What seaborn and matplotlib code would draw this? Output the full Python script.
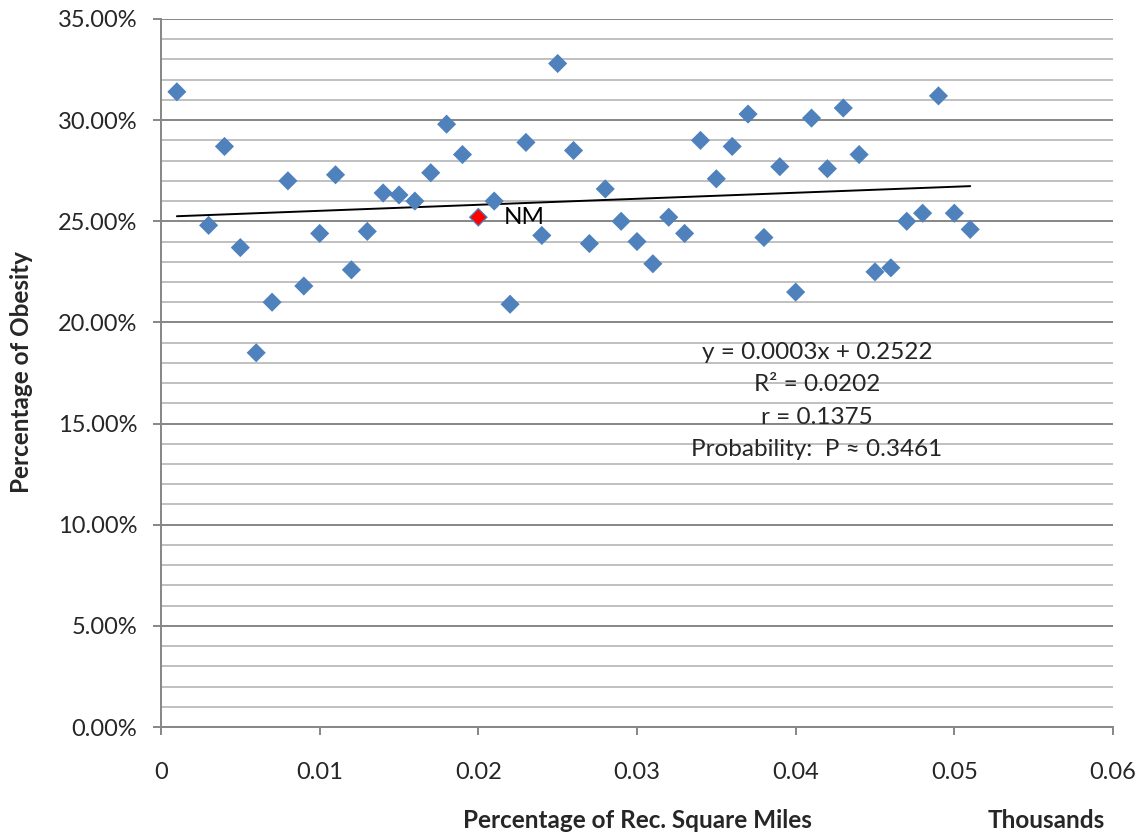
import matplotlib
matplotlib.use("Agg")
import matplotlib.pyplot as plt
import seaborn as sns
import pandas as pd
import numpy as np
from matplotlib.ticker import MultipleLocator, FuncFormatter

# ---- data ----
rec_sq_miles = [0.001, 0.003, 0.004, 0.005, 0.006, 0.007, 0.008, 0.009, 0.010,
                0.011, 0.012, 0.013, 0.014, 0.015, 0.016, 0.017, 0.018, 0.019,
                0.020, 0.021, 0.022, 0.023, 0.024, 0.025, 0.026, 0.027, 0.028,
                0.029, 0.030, 0.031, 0.032, 0.033, 0.034, 0.035, 0.036, 0.037,
                0.038, 0.039, 0.040, 0.041, 0.042, 0.043, 0.044, 0.045, 0.046,
                0.047, 0.048, 0.049, 0.050, 0.051]
obesity = [0.314, 0.248, 0.287, 0.237, 0.185, 0.210, 0.270, 0.218, 0.244,
           0.273, 0.226, 0.245, 0.264, 0.263, 0.260, 0.274, 0.298, 0.283,
           0.252, 0.260, 0.209, 0.289, 0.243, 0.328, 0.285, 0.239, 0.266,
           0.250, 0.240, 0.229, 0.252, 0.244, 0.290, 0.271, 0.287, 0.303,
           0.242, 0.277, 0.215, 0.301, 0.276, 0.306, 0.283, 0.225, 0.227,
           0.250, 0.254, 0.312, 0.254, 0.246]
highlight_label = "NM"
highlight_x = 0.020
highlight_y = 0.252
stats_lines = ["y = 0.0003x + 0.2522", "R\u00b2 = 0.0202", "r = 0.1375",
               "Probability:  P \u2248 0.3461"]

df = pd.DataFrame({"x": rec_sq_miles, "y": obesity})
df_hl = pd.DataFrame({"x": [highlight_x], "y": [highlight_y]})

sns.set_theme(style="white")
plt.rcParams["font.family"] = ["Lato", "DejaVu Sans"]

fig = plt.figure(figsize=(11.43, 8.40), dpi=100)
ax = fig.add_axes([161 / 1143, 1 - 727 / 840, (1113 - 161) / 1143, (727 - 19) / 840])

GRID_MINOR = "#C0C0C0"
GRID_MAJOR = "#868686"

ax.set_xlim(0, 0.06)
ax.set_ylim(0, 0.35)
ax.yaxis.set_major_locator(MultipleLocator(0.05))
ax.yaxis.set_minor_locator(MultipleLocator(0.01))
ax.xaxis.set_major_locator(MultipleLocator(0.01))
ax.grid(which="minor", axis="y", color=GRID_MINOR, linewidth=1.4)
ax.grid(which="major", axis="y", color=GRID_MAJOR, linewidth=1.4)
ax.grid(which="major", axis="x", visible=False)
ax.set_axisbelow(True)

sns.regplot(data=df, x="x", y="y", ax=ax, scatter=False, ci=None, truncate=True,
            line_kws=dict(color="black", linewidth=1.4, zorder=3))
sns.scatterplot(data=df, x="x", y="y", ax=ax, marker="D", s=95, color="#4F81BD",
                edgecolor="none", zorder=4)
sns.scatterplot(data=df_hl, x="x", y="y", ax=ax, marker="D", s=62, color="#FF0000",
                edgecolor="none", zorder=5)
ax.annotate(highlight_label, (highlight_x, highlight_y), xytext=(18, 0),
            textcoords="offset points", ha="left", va="center", fontsize=17.5,
            color="black")

for sp in ["top", "right"]:
    ax.spines[sp].set_visible(False)
for sp in ["left", "bottom"]:
    ax.spines[sp].set_color(GRID_MAJOR)
    ax.spines[sp].set_linewidth(1.4)

ax.yaxis.set_major_formatter(FuncFormatter(lambda v, p: f"{v*100:.2f}%"))
ax.xaxis.set_major_formatter(FuncFormatter(lambda v, p: "0" if abs(v) < 1e-12 else f"{v:.2f}"))
ax.tick_params(axis="y", which="major", direction="out", length=6, width=1.4,
               color=GRID_MAJOR, labelsize=17, pad=11, left=True)
ax.tick_params(axis="y", which="minor", left=False)
ax.tick_params(axis="x", which="major", direction="out", length=6, width=1.4,
               color=GRID_MAJOR, labelsize=17, pad=19, bottom=True)

ax.set_xlabel("")
ax.set_ylabel("")
fig.text(22 / 1143, 1 - 372 / 840, "Percentage of Obesity", rotation=90,
         ha="center", va="center", fontsize=17.5, fontweight="bold")
fig.text(637 / 1143, 1 - 821 / 840, "Percentage of Rec. Square Miles",
         ha="center", va="center", fontsize=17.5, fontweight="bold")
fig.text(1046 / 1143, 1 - 821 / 840, "Thousands",
         ha="center", va="center", fontsize=17.5, fontweight="bold")

for i, line in enumerate(stats_lines):
    fig.text(817 / 1143, 1 - (352 + i * 32.5) / 840, line, ha="center", va="center",
             fontsize=17.5)

fig.savefig("out.png", dpi=100)
